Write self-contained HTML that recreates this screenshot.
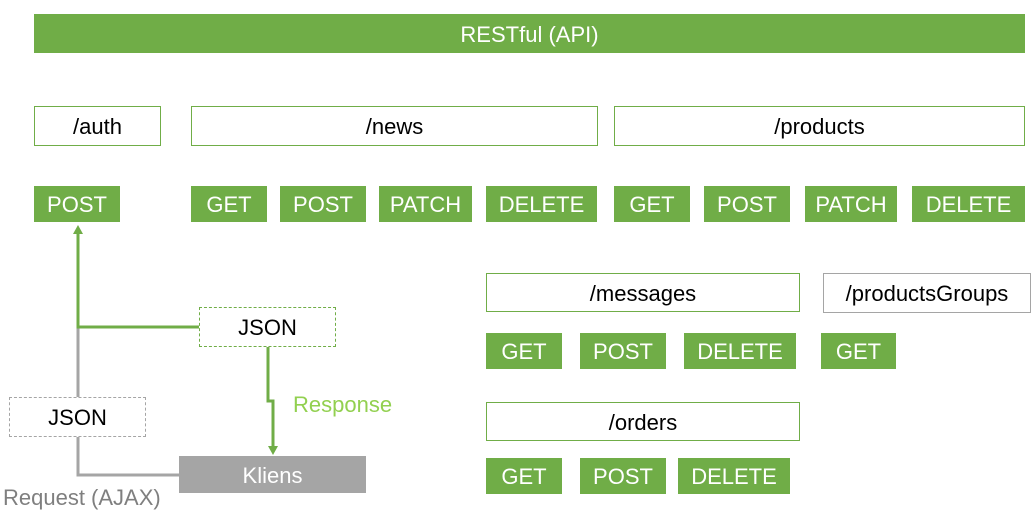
<!DOCTYPE html>
<html><head><style>
body{margin:0;width:1035px;height:521px;background:#fff;position:relative;font-family:"Liberation Sans",sans-serif;overflow:hidden}
.b{position:absolute;display:flex;align-items:center;justify-content:center;box-sizing:border-box;font-size:22px;padding-top:2px}
.g{background:#70ad47;color:#fff}
.o{border:1px solid #70ad47;color:#000;background:#fff}
</style></head><body>
<div class="b g" style="left:34px;top:14px;width:991px;height:39px">RESTful (API)</div>
<div class="b o" style="left:34px;top:106px;width:127px;height:40px">/auth</div>
<div class="b o" style="left:191px;top:106px;width:407px;height:40px">/news</div>
<div class="b o" style="left:614px;top:106px;width:411px;height:40px">/products</div>
<div class="b g" style="left:34px;top:186px;width:86px;height:36px">POST</div>
<div class="b g" style="left:191px;top:186px;width:76px;height:36px">GET</div>
<div class="b g" style="left:280px;top:186px;width:86px;height:36px">POST</div>
<div class="b g" style="left:379px;top:186px;width:93px;height:36px">PATCH</div>
<div class="b g" style="left:486px;top:186px;width:111px;height:36px">DELETE</div>
<div class="b g" style="left:614px;top:186px;width:76px;height:36px">GET</div>
<div class="b g" style="left:704px;top:186px;width:86px;height:36px">POST</div>
<div class="b g" style="left:805px;top:186px;width:92px;height:36px">PATCH</div>
<div class="b g" style="left:912px;top:186px;width:113px;height:36px">DELETE</div>
<div class="b o" style="left:486px;top:273px;width:314px;height:39px">/messages</div>
<div class="b" style="left:823px;top:273px;width:208px;height:40px;border:1px solid #a5a5a5">/productsGroups</div>
<div class="b g" style="left:486px;top:333px;width:76px;height:36px">GET</div>
<div class="b g" style="left:580px;top:333px;width:86px;height:36px">POST</div>
<div class="b g" style="left:684px;top:333px;width:112px;height:36px">DELETE</div>
<div class="b g" style="left:821px;top:333px;width:75px;height:36px">GET</div>
<div class="b o" style="left:486px;top:402px;width:314px;height:39px">/orders</div>
<div class="b g" style="left:486px;top:458px;width:76px;height:36px">GET</div>
<div class="b g" style="left:580px;top:458px;width:86px;height:36px">POST</div>
<div class="b g" style="left:678px;top:458px;width:112px;height:36px">DELETE</div>
<svg style="position:absolute;left:0;top:0" width="1035" height="521">
<polyline points="78,397 78,327" stroke="#a5a5a5" stroke-width="3" fill="none"/>
<polyline points="78,437 78,475 179,475" stroke="#a5a5a5" stroke-width="3" fill="none"/>
<polyline points="199,327 78,327 78,232" stroke="#70ad47" stroke-width="3" fill="none"/>
<polygon points="78,225 73,234 83,234" fill="#70ad47"/>
<polyline points="268,347 268,401 273,401 273,448" stroke="#70ad47" stroke-width="3" fill="none"/>
<polygon points="273,455 268,446 278,446" fill="#70ad47"/>
</svg>
<div class="b" style="left:199px;top:307px;width:137px;height:40px;border:1px dashed #70ad47;background:#fff">JSON</div>
<div class="b" style="left:9px;top:397px;width:137px;height:40px;border:1px dashed #a5a5a5;background:#fff">JSON</div>
<div class="b" style="left:179px;top:456px;width:187px;height:37px;background:#a5a5a5;color:#fff">Kliens</div>
<div style="position:absolute;left:293px;top:392px;font-size:22px;color:#92d050">Response</div>
<div style="position:absolute;left:3px;top:485px;font-size:22px;color:#7f7f7f">Request (AJAX)</div>
</body></html>
